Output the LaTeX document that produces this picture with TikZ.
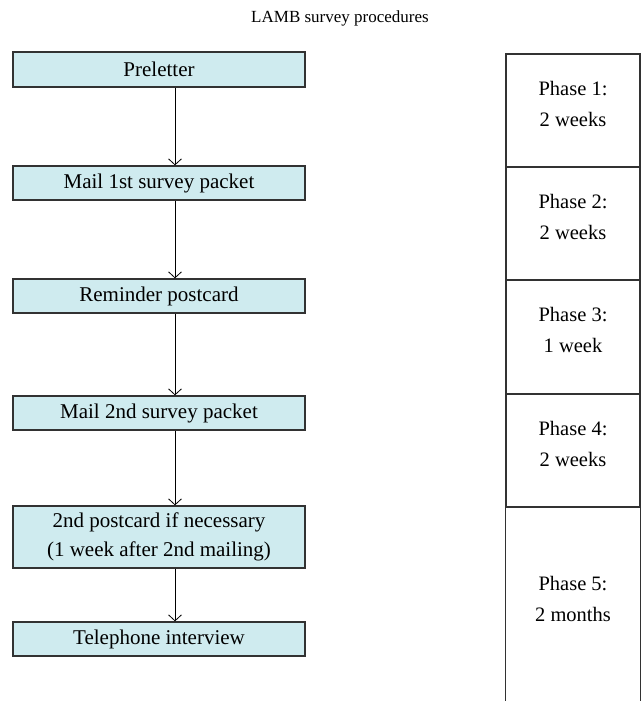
\documentclass[tikz,border=0pt]{standalone}
\usepackage{fontspec}
\setmainfont{Liberation Serif}
\usetikzlibrary{arrows.meta}
\definecolor{boxfill}{RGB}{207,235,239}
\definecolor{edge}{RGB}{50,50,50}
\tikzset{
  stepbox/.style={draw=edge, line width=1.3pt, fill=boxfill, minimum width=292pt, inner sep=0pt, align=center, font=\fontsize{21}{29}\selectfont},
  cell/.style={draw=edge, line width=1.2pt, minimum width=134pt, inner sep=0pt, align=center, font=\fontsize{20.5}{31}\selectfont, execute at end node={\rule[-14pt]{0pt}{0pt}}},
  flow/.style={draw=black, line width=0.8pt, -{Straight Barb[length=6pt,width=13pt,line width=0.8pt]}}
}
\begin{document}
\begin{tikzpicture}[x=1pt,y=-1pt]
\useasboundingbox (0,0) rectangle (641,701);
\node[font=\fontsize{17}{18}\selectfont] (title) at (340,18) {LAMB survey procedures};
\node[stepbox, minimum height=35pt] (pre) at (159,69.5) {Preletter};
\node[stepbox, minimum height=34pt] (m1) at (159,183) {Mail 1st survey packet};
\node[stepbox, minimum height=34pt] (rem) at (159,296) {Reminder postcard};
\node[stepbox, minimum height=34pt] (m2) at (159,413) {Mail 2nd survey packet};
\node[stepbox, minimum height=62pt] (pc2) at (159,537) {2nd postcard if necessary\\(1 week after 2nd mailing)};
\node[stepbox, minimum height=34pt] (tel) at (159,639) {Telephone interview};
\draw[flow] ([xshift=16pt]pre.south) -- ([xshift=16pt]m1.north);
\draw[flow] ([xshift=16pt]m1.south) -- ([xshift=16pt]rem.north);
\draw[flow] ([xshift=16pt]rem.south) -- ([xshift=16pt]m2.north);
\draw[flow] ([xshift=16pt]m2.south) -- ([xshift=16pt]pc2.north);
\draw[flow] ([xshift=16pt]pc2.south) -- ([xshift=16pt]tel.north);
\node[cell, minimum height=113pt] (p1) at (573,110.5) {Phase 1:\\2 weeks};
\node[cell, minimum height=113pt] (p2) at (573,223.5) {Phase 2:\\2 weeks};
\node[cell, minimum height=114pt] (p3) at (573,337) {Phase 3:\\1 week};
\node[cell, minimum height=113pt] (p4) at (573,450.5) {Phase 4:\\2 weeks};
\node[cell, draw=none, minimum height=198pt] (p5) at (573,606) {Phase 5:\\2 months};
\draw[edge, line width=1.2pt] (p5.south west) -- (p5.north west) -- (p5.north east) -- (p5.south east);
\end{tikzpicture}
\end{document}
